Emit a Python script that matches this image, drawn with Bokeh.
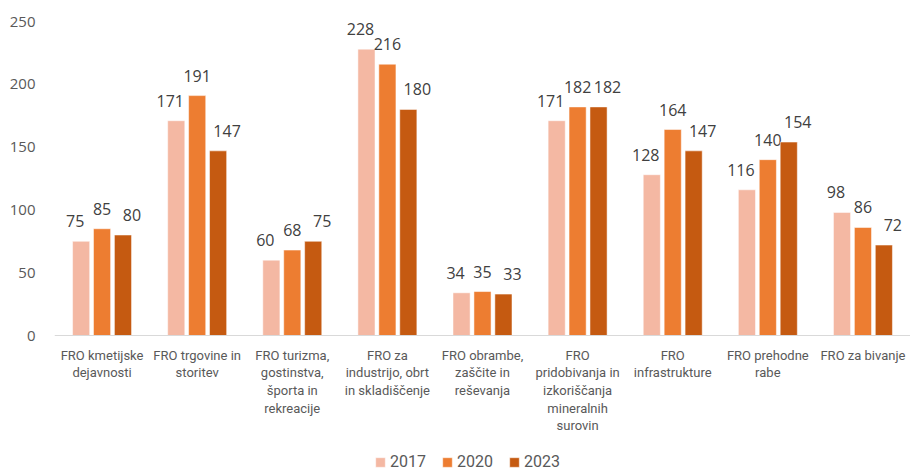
from bokeh.plotting import figure
from bokeh.models import ColumnDataSource, FixedTicker, Range1d, Legend, LegendItem, Span
from bokeh.core.properties import value
from bokeh.embed import file_html
from bokeh.resources import INLINE

categories = [
    "FRO kmetijske\ndejavnosti",
    "FRO trgovine in\nstoritev",
    "FRO turizma,\ngostinstva,\nšporta in\nrekreacije",
    "FRO za\nindustrijo, obrt\nin skladiščenje",
    "FRO obrambe,\nzaščite in\nreševanja",
    "FRO\npridobivanja in\nizkoriščanja\nmineralnih\nsurovin",
    "FRO\ninfrastrukture",
    "FRO prehodne\nrabe",
    "FRO za bivanje",
]
years = ["2017", "2020", "2023"]
v2017 = [75, 171, 60, 228, 34, 171, 128, 116, 98]
v2020 = [85, 191, 68, 216, 35, 182, 164, 140, 86]
v2023 = [80, 147, 75, 180, 33, 182, 147, 154, 72]
y_ticks = [0, 50, 100, 150, 200, 250]

colors = ["#F4B8A3", "#ED7D31", "#C55A11"]
offsets = [-0.22, 0.0, 0.22]
label_dx = [-6, 0, 9]
series = [v2017, v2020, v2023]

# frame: top at 21px, value 0 at 335px, bottom of page at 471px
px_per_unit = 314 / 250
y_min = 250 - 450 / px_per_unit

p = figure(width=910, height=471, output_backend="svg", toolbar_location=None,
           x_range=Range1d(-0.5, 8.5), y_range=Range1d(y_min, 250),
           min_border_left=54, min_border_right=0, min_border_top=21,
           min_border_bottom=0)
p.outline_line_color = None
p.background_fill_color = "white"
p.border_fill_color = "white"
p.xgrid.visible = False
p.ygrid.visible = False
p.xaxis.visible = False

p.add_layout(Span(location=0, dimension="width", line_color="#D9D9D9", line_width=1))

idx = list(range(len(categories)))
items = []
for yr, vals, col, off, dx in zip(years, series, colors, offsets, label_dx):
    src = ColumnDataSource(dict(x=[i + off for i in idx], top=vals,
                                lab=[str(v) for v in vals]))
    r = p.vbar(x="x", top="top", width=0.18, source=src, fill_color=col,
               line_color="white", line_width=0.5)
    p.text(x="x", y="top", text="lab", source=src, text_align="center",
           text_baseline="bottom", x_offset=dx, y_offset=-14, text_color="#404040",
           text_font=value("Open Sans"), text_font_size="16px")
    items.append(LegendItem(label=yr, renderers=[r]))

cat_src = ColumnDataSource(dict(x=idx, y=[0] * len(idx), t=categories))
p.text(x="x", y="y", text="t", source=cat_src, text_align="center",
       text_baseline="top", y_offset=12, text_color="#595959",
       text_font=value("Roboto"), text_font_size="13px", text_line_height=1.18)

p.yaxis.ticker = FixedTicker(ticks=y_ticks)
p.yaxis.axis_line_color = None
p.yaxis.major_tick_line_color = None
p.yaxis.minor_tick_line_color = None
p.yaxis.major_label_text_color = "#595959"
p.yaxis.major_label_text_font = "Open Sans"
p.yaxis.major_label_text_font_size = "15px"
p.yaxis.major_label_standoff = 13

legend = Legend(items=items, orientation="horizontal", location=(320, 0),
                border_line_color=None, background_fill_alpha=0,
                label_text_font="Roboto", label_text_font_size="16px",
                label_text_color="#595959", glyph_width=12, glyph_height=12,
                spacing=15, label_standoff=4, padding=0, margin=0)
p.add_layout(legend, "center")

open("out.html", "w").write(file_html(p, INLINE))
